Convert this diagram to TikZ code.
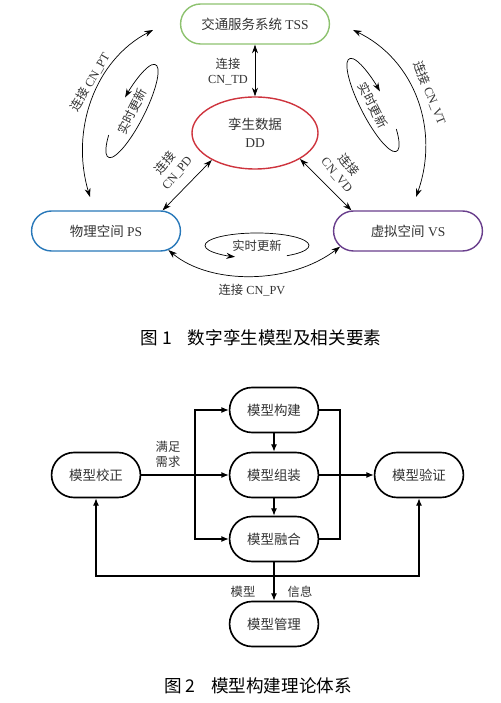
\documentclass[tikz,border=0pt]{standalone}
\usepackage{fontspec}
\setmainfont{Liberation Serif}
\newfontfamily\cjk{Noto Sans CJK SC}
\usetikzlibrary{arrows.meta,shapes.misc,shapes.geometric}
\definecolor{tssgreen}{RGB}{141,194,111}
\definecolor{ddred}{RGB}{206,52,62}
\definecolor{psblue}{RGB}{40,120,185}
\definecolor{vspurple}{RGB}{105,62,140}
\tikzset{
    kongjian/.style={rounded rectangle, draw, line width=1.2pt, minimum width=4.7cm, minimum height=1.2cm, font=\fontsize{11.5}{14}\selectfont},
    mokuai/.style={rounded rectangle, draw, line width=1.4pt, minimum width=2.9cm, minimum height=1.35cm, font=\cjk\fontsize{11.5}{14}\selectfont},
    biaoqian/.style={font=\fontsize{10.5}{13}\selectfont, align=center, inner sep=1pt},
    lianjie/.style={{Stealth[length=2.6mm,width=1.8mm]}-{Stealth[length=2.6mm,width=1.8mm]}, line width=0.6pt},
    gengxin/.style={-{Stealth[length=2.6mm,width=1.8mm]}, line width=0.6pt},
    liucheng/.style={-{Latex[length=2.2mm,width=1.8mm]}, line width=1pt},
}
\begin{document}
\begin{tikzpicture}[
                x=0.03cm, y=0.03cm, % 1 像素 = 0.03cm
                every node/.style={text=black!80},
            ]
            \useasboundingbox (0,0) rectangle (500,703);
            % 图1 节点
            \node[kongjian, draw=tssgreen] (tss) at (255,679) {{\cjk 交通服务系统} TSS};
            \node[ellipse, draw=ddred, line width=1.2pt, minimum width=3.78cm, minimum height=2.16cm, align=center, font=\fontsize{11.5}{15}\selectfont] (dd) at (255,570) {{\cjk 孪生数据}\\DD};
            \node[kongjian, draw=psblue] (ps) at (106,472) {{\cjk 物理空间} PS};
            \node[kongjian, draw=vspurple] (vs) at (408,472) {{\cjk 虚拟空间} VS};

            % 直线连接
            \draw[lianjie] (tss.south) -- (dd.north);
            \node[biaoqian] (cntd) at (228,631) {{\cjk 连接}\\CN\_TD};
            \draw[lianjie] (dd.212) -- (ps.20);
            \node[biaoqian, rotate=50] (cnpd) at (171,535) {{\cjk 连接}\\CN\_PD};
            \draw[lianjie] (dd.330) -- (vs.160);
            \node[biaoqian, rotate=-50] (cnvd) at (343,533) {{\cjk 连接}\\CN\_VD};

            % 曲线连接
            \coordinate (ptA) at (90,506);
            \coordinate (ptB) at (153,673);
            \draw[lianjie] (ptA) .. controls (70,573) and (95,643) .. (ptB);
            \node[biaoqian, rotate=60] (cnpt) at (90,621) {{\cjk 连接} CN\_PT};
            \coordinate (vtA) at (416,506);
            \coordinate (vtB) at (353,673);
            \draw[lianjie] (vtB) .. controls (415,643) and (440,573) .. (vtA);
            \node[biaoqian, rotate=-68] (cnvt) at (430,610) {{\cjk 连接} CN\_VT};
            \draw[lianjie] (ps.-17) .. controls (210,418) and (290,418) .. (vs.193);
            \node[biaoqian] (cnpv) at (252,413) {{\cjk 连接} CN\_PV};

            % 实时更新
            \begin{scope}[shift={(257,457.5)}]
            \draw[gengxin] (-55:52 and 12.5) arc[start angle=-55, end angle=245, x radius=52, y radius=12.5];
            \node[biaoqian] (gxpv) at (0,0) {\cjk 实时更新};
            \end{scope}
            \begin{scope}[shift={(132,592)}, rotate=63]
            \draw[gengxin] (128:52 and 12.5) arc[start angle=128, end angle=440, x radius=52, y radius=12.5];
            \node[biaoqian, rotate=63] (gxpt) at (0,0) {\cjk 实时更新};
            \end{scope}
            \begin{scope}[shift={(373,598)}, xscale=-1, rotate=63]
            \draw[gengxin] (128:52 and 12.5) arc[start angle=128, end angle=440, x radius=52, y radius=12.5];
            \node[biaoqian, rotate=-63] (gxvt) at (0,0) {\cjk 实时更新};
            \end{scope}

            \node[font=\cjk\fontsize{15}{18}\selectfont, text=black] (tu1) at (261,365) {图 1\hspace{0.9em}数字孪生模型及相关要素};

            % 图2 节点
            \node[mokuai] (jz) at (96,228) {模型校正};
            \node[mokuai] (gj) at (274,293) {模型构建};
            \node[mokuai] (zz) at (274,228) {模型组装};
            \node[mokuai] (rh) at (274,164) {模型融合};
            \node[mokuai] (yz) at (419,228) {模型验证};
            \node[mokuai] (gl) at (274,79) {模型管理};

            % 分支
            \coordinate (fz) at (195,228);
            \draw[line width=1pt] (jz.east) -- (fz);
            \draw[liucheng] (fz) |- (gj.west);
            \draw[liucheng] (fz) -- (zz.west);
            \draw[liucheng] (fz) |- (rh.west);
            \node[biaoqian, font=\cjk\fontsize{10.5}{13}\selectfont] (mzxq) at (168,249) {满足\\需求};
            \draw[liucheng] (gj.south) -- (zz.north);
            \draw[liucheng] (zz.south) -- (rh.north);
            \coordinate (hb) at (340,228);
            \draw[line width=1pt] (gj.east) -| (hb) |- (rh.east);
            \draw[liucheng] (zz.east) -- (yz.west);

            % 回路
            \coordinate (zx) at (96,127);
            \coordinate (yx) at (419,127);
            \draw[liucheng, {Latex[length=2.2mm,width=1.8mm]}-{Latex[length=2.2mm,width=1.8mm]}] (jz.south) -- (zx) -- (yx) -- (yz.south);
            \draw[liucheng] (rh.south) -- (gl.north);
            \node[biaoqian, font=\cjk\fontsize{10.5}{13}\selectfont] (mx) at (243,111) {模型};
            \node[biaoqian, font=\cjk\fontsize{10.5}{13}\selectfont] (xx) at (300,111) {信息};

            \node[font=\cjk\fontsize{15}{18}\selectfont, text=black] (tu2) at (258,17) {图 2\hspace{0.9em}模型构建理论体系};
            \end{tikzpicture}
\end{document}
